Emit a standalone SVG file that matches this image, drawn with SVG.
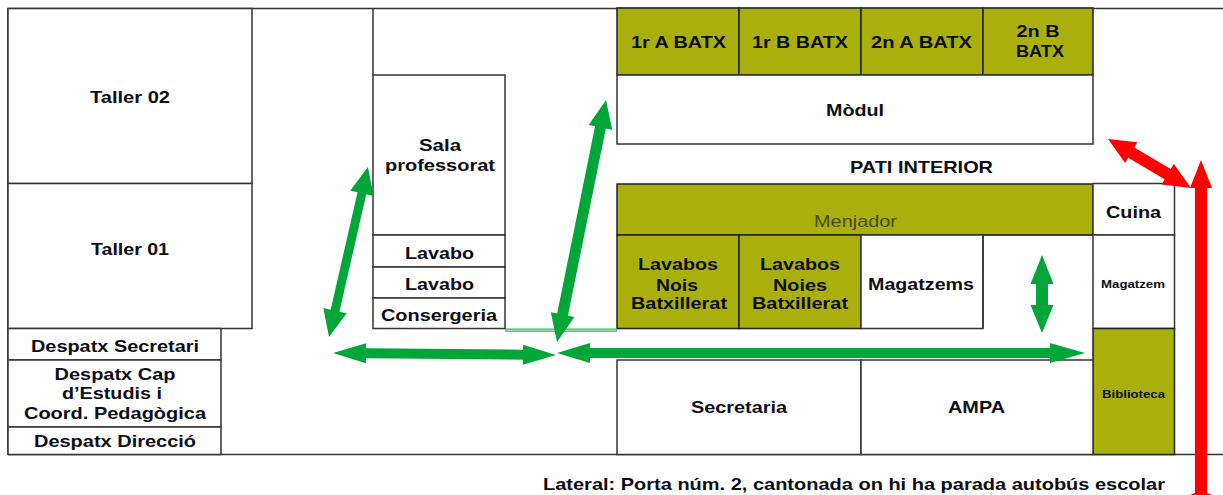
<svg xmlns="http://www.w3.org/2000/svg" width="1223" height="495" viewBox="0 0 1223 495">
<style>
.r{fill:#fff;stroke:#333;stroke-width:1.5}
.o{fill:#a9b00c;stroke:#222;stroke-width:1.5}
.l{fill:none;stroke:#333;stroke-width:1.5}
text{font-family:"Liberation Sans",Arial,sans-serif;font-weight:bold;font-size:16.5px;fill:#0d0d14;text-anchor:middle}
.s{font-size:10.5px}
.n{font-weight:normal;fill:#4a4a08}
.g{fill:#00a638}
.e{fill:#ff0000}
</style>
<rect width="1223" height="495" fill="#fff"/>
<g id="frame"><path class="l" d="M8 8.500H1223M8 8V455M8 454.500H1223M373 8V75"/></g>
<g id="taller02"><rect class="r" x="8" y="8.500" width="244" height="175"/><text x="130" y="103" textLength="80" lengthAdjust="spacingAndGlyphs">Taller 02</text></g>
<g id="taller01"><rect class="r" x="8" y="183.500" width="244" height="145"/><text x="130" y="255" textLength="78" lengthAdjust="spacingAndGlyphs">Taller 01</text></g>
<g id="sala"><rect class="r" x="373" y="75" width="132" height="160"/><text x="440" y="151" textLength="42" lengthAdjust="spacingAndGlyphs">Sala</text><text x="440" y="171" textLength="110" lengthAdjust="spacingAndGlyphs">professorat</text></g>
<g id="lavabo1"><rect class="r" x="373" y="235" width="132" height="32"/><text x="439.500" y="258.500" textLength="69" lengthAdjust="spacingAndGlyphs">Lavabo</text></g>
<g id="lavabo2"><rect class="r" x="373" y="267" width="132" height="31"/><text x="439.500" y="289.500" textLength="69" lengthAdjust="spacingAndGlyphs">Lavabo</text></g>
<g id="consergeria"><rect class="r" x="373" y="298" width="132" height="30.500"/><text x="439" y="320.500" textLength="116" lengthAdjust="spacingAndGlyphs">Consergeria</text></g>
<g id="despatx-secretari"><rect class="r" x="8" y="328.500" width="213" height="31.500"/><text x="115" y="352" textLength="168" lengthAdjust="spacingAndGlyphs">Despatx Secretari</text></g>
<g id="despatx-cap"><rect class="r" x="8" y="360" width="213" height="67"/><text x="115" y="380" textLength="121" lengthAdjust="spacingAndGlyphs">Despatx Cap</text><text x="112" y="399" textLength="100" lengthAdjust="spacingAndGlyphs">d’Estudis i</text><text x="115" y="419" textLength="182" lengthAdjust="spacingAndGlyphs">Coord. Pedagògica</text></g>
<g id="despatx-direccio"><rect class="r" x="8" y="427" width="213" height="27.500"/><text x="115" y="446.500" textLength="162" lengthAdjust="spacingAndGlyphs">Despatx Direcció</text></g>
<g id="batx-1a"><rect class="o" x="617" y="8" width="122" height="67"/><text x="678.500" y="48" textLength="95" lengthAdjust="spacingAndGlyphs">1r A BATX</text></g>
<g id="batx-1b"><rect class="o" x="739" y="8" width="122" height="67"/><text x="800" y="48" textLength="96" lengthAdjust="spacingAndGlyphs">1r B BATX</text></g>
<g id="batx-2a"><rect class="o" x="861" y="8" width="122" height="67"/><text x="921.500" y="48" textLength="101" lengthAdjust="spacingAndGlyphs">2n A BATX</text></g>
<g id="batx-2b"><rect class="o" x="983" y="8" width="110" height="67"/><text x="1038" y="37" textLength="43" lengthAdjust="spacingAndGlyphs">2n B</text><text x="1040" y="57" textLength="48" lengthAdjust="spacingAndGlyphs">BATX</text></g>
<g id="modul"><rect class="r" x="617" y="75" width="476" height="69"/><text x="855" y="116" textLength="58" lengthAdjust="spacingAndGlyphs">Mòdul</text></g>
<g id="pati"><text x="921.500" y="173" textLength="143" lengthAdjust="spacingAndGlyphs">PATI INTERIOR</text></g>
<g id="menjador"><rect class="o" x="617" y="184" width="476" height="51"/><text class="n" x="855.500" y="227" textLength="83" lengthAdjust="spacingAndGlyphs">Menjador</text></g>
<g id="lavabos-nois"><rect class="o" x="617" y="235" width="122" height="93.500"/><text x="678" y="270" textLength="80" lengthAdjust="spacingAndGlyphs">Lavabos</text><text x="677" y="291" textLength="42" lengthAdjust="spacingAndGlyphs">Nois</text><text x="679" y="309" textLength="96" lengthAdjust="spacingAndGlyphs">Batxillerat</text></g>
<g id="lavabos-noies"><rect class="o" x="739" y="235" width="122" height="93.500"/><text x="800" y="270" textLength="80" lengthAdjust="spacingAndGlyphs">Lavabos</text><text x="800" y="291" textLength="54" lengthAdjust="spacingAndGlyphs">Noies</text><text x="800" y="309" textLength="96" lengthAdjust="spacingAndGlyphs">Batxillerat</text></g>
<g id="magatzems"><rect class="r" x="861" y="235" width="122" height="93.500"/><text x="921" y="289.500" textLength="106" lengthAdjust="spacingAndGlyphs">Magatzems</text></g>
<g id="passadis"><path class="l" d="M983 235H1093M983 235V328.500"/></g>
<g id="cuina"><rect class="r" x="1093" y="183.500" width="81.500" height="51.500"/><text x="1133.500" y="218" textLength="55" lengthAdjust="spacingAndGlyphs">Cuina</text></g>
<g id="magatzem"><rect class="r" x="1093" y="235" width="81.500" height="93.500"/><text class="s" x="1133" y="288" textLength="64" lengthAdjust="spacingAndGlyphs">Magatzem</text></g>
<g id="biblioteca"><rect class="o" x="1093" y="328.500" width="81.500" height="126"/><text class="s" x="1133.500" y="398" textLength="63" lengthAdjust="spacingAndGlyphs">Biblioteca</text></g>
<g id="secretaria"><rect class="r" x="617" y="360" width="244" height="94.500"/><text x="739" y="412.500" textLength="96" lengthAdjust="spacingAndGlyphs">Secretaria</text></g>
<g id="ampa"><rect class="r" x="861" y="360" width="232" height="94.500"/><text x="976.500" y="412.500" textLength="57" lengthAdjust="spacingAndGlyphs">AMPA</text></g>
<g id="lateral"><text x="854" y="489.500" textLength="622" lengthAdjust="spacingAndGlyphs">Lateral: Porta núm. 2, cantonada on hi ha parada autobús escolar</text></g>
<g id="connectors">
<path d="M505 329.200H617M505 331.200H617" fill="none" stroke="#2fb457" stroke-width="1.200"/>
<polygon class="g" transform="translate(329 337) rotate(-77.100)" points="0,0 27,-12 27,-4.500 147.400,-4.500 147.400,-12 174.400,0 147.400,12 147.400,4.500 27,4.500 27,12"/>
<polygon class="g" transform="translate(557 342) rotate(-78.550)" points="0,0 28,-12 28,-5.500 218.900,-5.500 218.900,-12 246.900,0 218.900,12 218.900,5.500 28,5.500 28,12"/>
<polygon class="g" transform="translate(333 353) rotate(0.500)" points="0,0 33,-10 33,-5 190,-5 190,-10 223,0 190,10 190,5 33,5 33,10"/>
<polygon class="g" points="557,353 590,343 590,348 1050,348 1050,343 1085,353 1050,363 1050,358 590,358 590,363"/>
<polygon class="g" points="1042,255 1053.500,284 1048,284 1048,305 1053.500,305 1042,333 1030.500,305 1036,305 1036,284 1030.500,284"/>
<polygon class="e" points="1201,160 1212,188 1207,188 1207,493 1212,495 1190,495 1195,493 1195,188 1190,188"/>
<polygon class="e" transform="translate(1108 139) rotate(30.500)" points="0,0 27,-12 27,-6 69.300,-6 69.300,-12 96.300,0 69.300,12 69.300,6 27,6 27,12"/>
</g>
</svg>
